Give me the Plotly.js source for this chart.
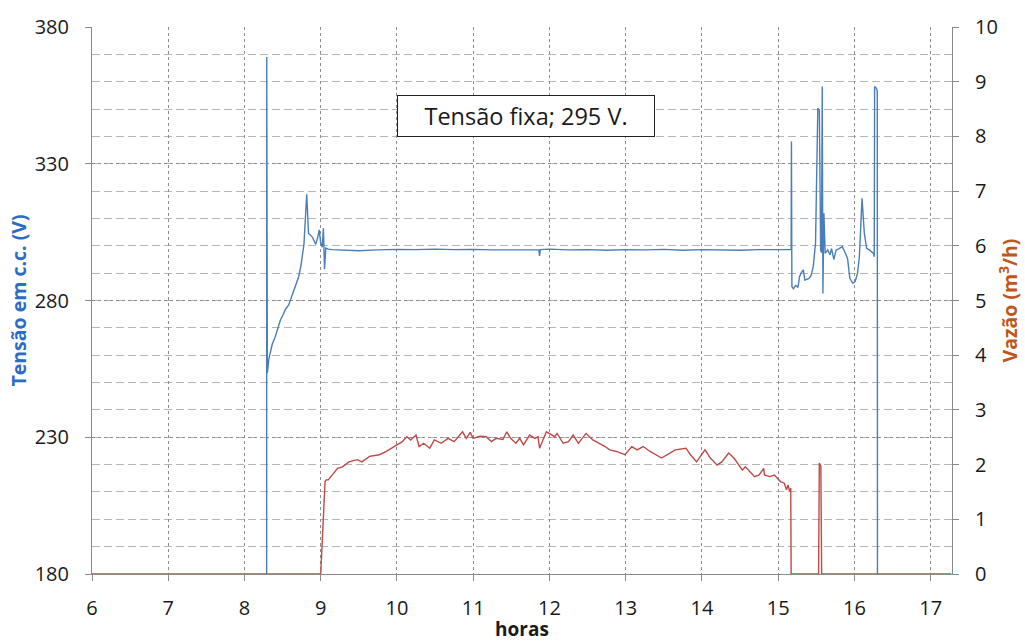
<!DOCTYPE html>
<html>
<head>
<meta charset="utf-8">
<script src="https://cdn.plot.ly/plotly-3.0.1.min.js"></script>
<style>html,body{margin:0;padding:0;background:#fff;}#chart{width:1025px;height:642px;}</style>
</head>
<body>
<div id="chart"></div>
<script>
// Tensão em c.c. (V) vs horas
const tensaoHoras = [6, 8.29, 8.292, 8.30, 8.32, 8.364, 8.40, 8.43, 8.47, 8.50, 8.54, 8.58, 8.62, 8.67, 8.71, 8.74, 8.78, 8.816, 8.84, 8.87, 8.89, 8.91, 8.934, 8.96, 8.98, 9.00, 9.02, 9.035, 9.05, 9.066, 9.10, 9.15, 9.3, 9.5, 9.75, 10.0, 10.25, 10.5, 10.75, 11.0, 11.25, 11.5, 11.75, 11.86, 11.87, 11.88, 12.0, 12.25, 12.5, 12.75, 13.0, 13.25, 13.5, 13.75, 14.0, 14.25, 14.5, 14.75, 15.0, 15.17, 15.174, 15.18, 15.20, 15.23, 15.26, 15.28, 15.30, 15.33, 15.35, 15.40, 15.43, 15.46, 15.49, 15.52, 15.54, 15.557, 15.568, 15.578, 15.587, 15.60, 15.617, 15.65, 15.68, 15.70, 15.73, 15.76, 15.80, 15.84, 15.87, 15.91, 15.94, 15.98, 16.01, 16.04, 16.065, 16.10, 16.13, 16.16, 16.196, 16.22, 16.25, 16.26, 16.265, 16.29, 16.30, 16.305, 17.27];
const tensaoV = [0, 0, 369, 253.5, 258.7, 264, 266.5, 269.2, 272.8, 274.4, 276.9, 278.4, 281.5, 284.9, 288.6, 292.7, 300.5, 318.8, 304.5, 303.8, 303.2, 302, 300.5, 303, 305.8, 301, 299.5, 306.4, 291.4, 299.2, 298.8, 298.6, 298.4, 298.2, 298.5, 298.7, 298.6, 298.8, 298.6, 298.7, 298.5, 298.6, 298.7, 298.5, 296.3, 298.6, 298.8, 298.5, 298.6, 298.4, 298.6, 298.5, 298.7, 298.4, 298.6, 298.5, 298.4, 298.6, 298.5, 298.6, 338.1, 285.1, 284.3, 285.5, 284.8, 288.7, 290, 291.2, 287.5, 288, 289, 292.4, 300.9, 350.3, 349.6, 298.5, 297.5, 358.2, 282.6, 311.9, 297.2, 298.5, 296.7, 299, 295, 298.5, 299, 299.7, 298, 295.4, 288.1, 286.3, 287, 289.9, 296, 317.4, 304.6, 299.1, 298.5, 297.9, 297.2, 296, 358.2, 357.6, 356.4, 0, 0];

// Vazão (m³/h) vs horas
const vazaoHoras = [6, 9.0, 9.057, 9.07, 9.10, 9.15, 9.22, 9.285, 9.37, 9.48, 9.54, 9.64, 9.77, 9.86, 9.99, 10.07, 10.13, 10.18, 10.25, 10.29, 10.35, 10.43, 10.49, 10.58, 10.67, 10.75, 10.86, 10.91, 10.96, 11.0, 11.09, 11.17, 11.24, 11.30, 11.39, 11.44, 11.49, 11.56, 11.61, 11.66, 11.74, 11.81, 11.85, 11.87, 11.96, 12.0, 12.07, 12.1, 12.18, 12.25, 12.31, 12.38, 12.48, 12.57, 12.66, 12.73, 12.79, 12.88, 12.99, 13.08, 13.15, 13.23, 13.32, 13.47, 13.58, 13.65, 13.79, 13.85, 13.93, 14.04, 14.11, 14.20, 14.26, 14.35, 14.42, 14.53, 14.57, 14.69, 14.75, 14.81, 14.82, 14.89, 14.95, 15.03, 15.08, 15.11, 15.13, 15.15, 15.165, 15.17, 15.53, 15.54, 15.56, 15.57, 17.27];
const vazaoM3h = [0, 0, 1.69, 1.72, 1.72, 1.81, 1.93, 1.96, 2.05, 2.09, 2.05, 2.15, 2.18, 2.24, 2.36, 2.42, 2.51, 2.45, 2.54, 2.33, 2.39, 2.30, 2.45, 2.39, 2.48, 2.42, 2.60, 2.48, 2.59, 2.48, 2.52, 2.51, 2.42, 2.48, 2.46, 2.60, 2.48, 2.39, 2.48, 2.36, 2.54, 2.48, 2.51, 2.30, 2.60, 2.57, 2.51, 2.57, 2.39, 2.42, 2.54, 2.39, 2.57, 2.45, 2.39, 2.33, 2.27, 2.24, 2.18, 2.33, 2.27, 2.33, 2.24, 2.12, 2.21, 2.27, 2.30, 2.18, 2.05, 2.27, 2.12, 1.99, 2.05, 2.21, 2.12, 1.90, 1.96, 1.78, 1.81, 1.93, 1.81, 1.78, 1.81, 1.69, 1.66, 1.54, 1.63, 1.51, 1.57, 0, 0, 2.03, 1.97, 0, 0];

const xTicks = [6, 7, 8, 9, 10, 11, 12, 13, 14, 15, 16, 17];
const yLeftTicks = [180, 230, 280, 330, 380];
const yRightTicks = [0, 1, 2, 3, 4, 5, 6, 7, 8, 9, 10];

const FONT = 'Open Sans, Noto Sans, sans-serif';
const axisGray = '#8a8a8a';

const traces = [
  {
    x: tensaoHoras, y: tensaoV, type: 'scatter', mode: 'lines', name: 'Tensão',
    line: {color: '#4A7EBB', width: 1.4}, yaxis: 'y', showlegend: false
  },
  {
    x: vazaoHoras, y: vazaoM3h, type: 'scatter', mode: 'lines', name: 'Vazão',
    line: {color: '#BE4B48', width: 1.4}, yaxis: 'y2', showlegend: false
  }
];

const layout = {
  width: 1025, height: 642,
  margin: {l: 92, r: 73, t: 27, b: 68, pad: 0},
  paper_bgcolor: '#fff', plot_bgcolor: '#fff',
  font: {family: FONT, color: '#1a1a1a'},
  showlegend: false,
  xaxis: {
    range: [6, 17.28], tickvals: xTicks, ticktext: xTicks.map(String),
    showgrid: true, gridcolor: '#8c8c8c', griddash: '3px,3px', gridwidth: 1,
    zeroline: false, showline: true, linecolor: axisGray, linewidth: 1,
    ticks: 'outside', ticklen: 6, tickcolor: axisGray,
    tickfont: {size: 20, family: FONT, color: '#1a1a1a'}, ticklabelstandoff: 10,
    title: {text: 'horas', font: {size: 19, family: FONT, color: '#1a1a1a', weight: 'bold'}, standoff: 6}
  },
  yaxis: {
    range: [180, 380], tickvals: yLeftTicks, ticktext: yLeftTicks.map(String),
    showgrid: true, gridcolor: '#8c8c8c', griddash: '3px,3px', gridwidth: 1,
    minor: {dtick: 10, tick0: 180, showgrid: true, gridcolor: '#b5b5b5', griddash: '8px,4px', gridwidth: 1, ticks: ''},
    zeroline: false, showline: true, linecolor: axisGray, linewidth: 1,
    ticks: 'outside', ticklen: 6, tickcolor: axisGray,
    tickfont: {size: 20, family: FONT, color: '#1a1a1a'}, ticklabelstandoff: 12,
    title: {text: 'Tensão em c.c. (V)', font: {size: 19.5, family: FONT, color: '#2A6CC8', weight: 'bold'}, standoff: 2}
  },
  yaxis2: {
    range: [0, 10], tickvals: yRightTicks, ticktext: yRightTicks.map(String),
    overlaying: 'y', side: 'right', showgrid: false, zeroline: false,
    showline: true, linecolor: axisGray, linewidth: 1,
    ticks: 'outside', ticklen: 6, tickcolor: axisGray,
    tickfont: {size: 20, family: FONT, color: '#1a1a1a'}, ticklabelstandoff: 12,
    title: {text: 'Vazão (m<sup>3</sup>/h)', font: {size: 19.5, family: FONT, color: '#C0561A', weight: 'bold'}, standoff: 6}
  },
  annotations: [
    {
      xref: 'paper', yref: 'paper', x: 0.5047, y: 0.837, xanchor: 'center', yanchor: 'middle',
      text: 'Tensão fixa; 295 V.', showarrow: false,
      font: {size: 23.5, family: FONT, color: '#1a1a1a'},
      bgcolor: '#ffffff', bordercolor: '#222222', borderwidth: 1, borderpad: 3,
      width: 250, height: 34, align: 'center', valign: 'middle'
    }
  ]
};

Plotly.newPlot('chart', traces, layout, {displayModeBar: false, staticPlot: true});
</script>
</body>
</html>
